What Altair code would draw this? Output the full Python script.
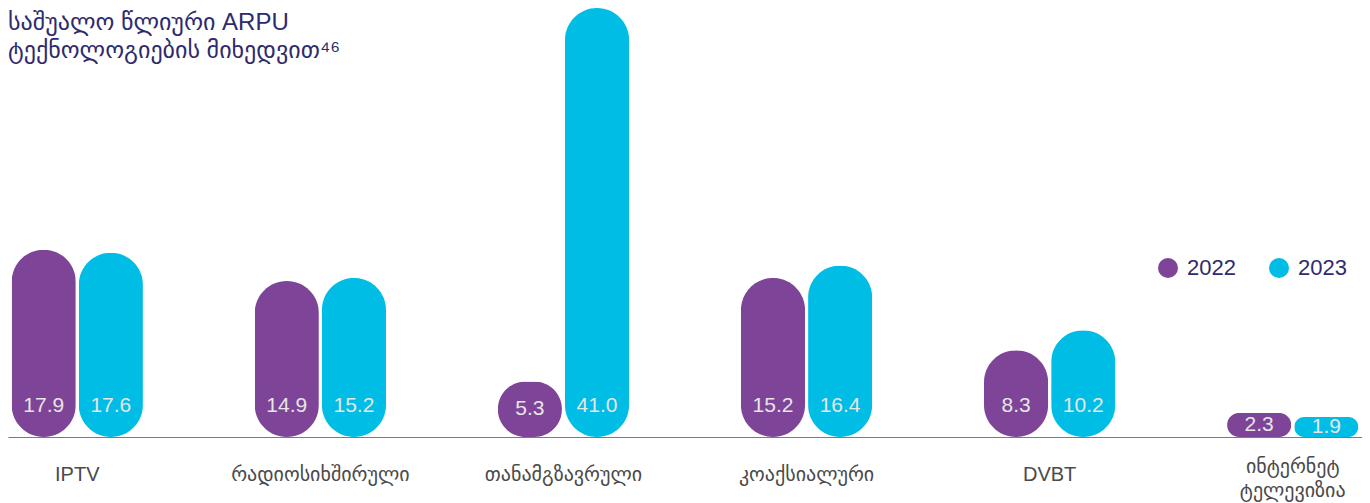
import altair as alt
import pandas as pd

categories = ["IPTV", "რადიოსიხშირული", "თანამგზავრული", "კოაქსიალური", "DVBT", "ინტერნეტ\nტელევიზია"]
years = ["2022", "2023"]
values_2022 = [17.9, 14.9, 5.3, 15.2, 8.3, 2.3]
values_2023 = [17.6, 15.2, 41.0, 16.4, 10.2, 1.9]
title_lines = ["საშუალო წლიური ARPU", "ტექნოლოგიების მიხედვით⁴⁶"]
colors = ["#7e4497", "#00bde6"]

rows = []
for c, a, b in zip(categories, values_2022, values_2023):
    rows.append({"cat": c, "year": years[0], "value": a})
    rows.append({"cat": c, "year": years[1], "value": b})
df = pd.DataFrame(rows)

FONT = "Liberation Sans, Arial, DejaVu Sans"

x = alt.X(
    "cat:N", sort=categories,
    scale=alt.Scale(paddingInner=0.46, paddingOuter=0.015),
    axis=alt.Axis(title=None, labelAngle=0, labelFontSize=20, labelColor="#4a4a4a",
                  labelFont=FONT,
                  labelPadding={"condition": {"test": "indexof(datum.value, '\\n') >= 0", "value": 19}, "value": 27},
                  labelLineHeight=24,
                  labelExpr="split(datum.label, '\\n')", ticks=False,
                  domainColor="#7a7a7a", domainWidth=1, labelLimit=400, grid=False),
)
xo = alt.XOffset("year:N", sort=years, scale=alt.Scale(paddingInner=0.045, paddingOuter=0))
yscale = alt.Scale(domain=[0, 41], nice=False)

base = alt.Chart(df)

bars = base.mark_bar(cornerRadius=32).encode(
    x=x, xOffset=xo,
    y=alt.Y("value:Q", scale=yscale, axis=None),
    color=alt.Color("year:N", scale=alt.Scale(domain=years, range=colors),
                    legend=alt.Legend(title=None, orient="none", legendX=1149, legendY=249,
                                      direction="horizontal", symbolType="circle",
                                      symbolSize=400, symbolStrokeWidth=0,
                                      labelFontSize=22, labelColor="#2e2a6e", labelFont=FONT,
                                      labelOffset=8, columnPadding=32, padding=0,
                                      symbolOpacity=1)),
)

labels = base.transform_calculate(
    labelY="min(datum.value / 2, 3.0)"
).mark_text(fontSize=21, font=FONT, color="#e6e6e6", baseline="middle").encode(
    x=x, xOffset=xo,
    y=alt.Y("labelY:Q", scale=yscale, axis=None),
    text=alt.Text("value:Q", format=".1f"),
)

title = alt.Chart(pd.DataFrame({"t": [0]})).mark_text(
    align="left", baseline="top", fontSize=24, font=FONT, color="#2e2a6e", lineHeight=28
).encode(x=alt.value(0), y=alt.value(3), text=alt.value(title_lines))

chart = alt.layer(bars, labels, title).properties(
    width=1354, height=429,
    autosize=alt.AutoSizeParams(type="none"),
    padding={"left": 0, "top": 0, "right": 0, "bottom": 66},
).configure_view(stroke=None)

chart.save("out.html", embed_options={"renderer": "svg", "actions": False})
